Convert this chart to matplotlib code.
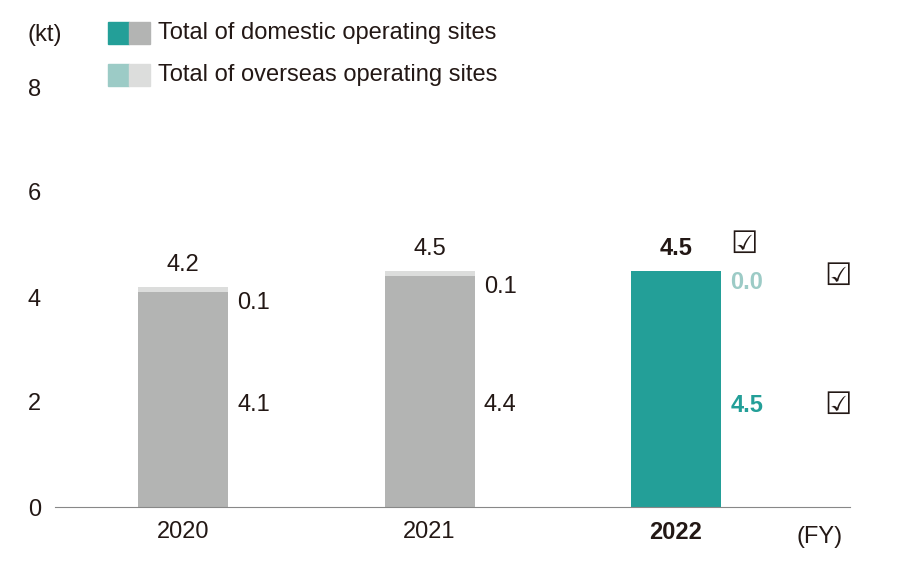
import matplotlib.pyplot as plt

years = ['2020', '2021', '2022']
domestic = [4.1, 4.4, 4.5]
overseas = [0.1, 0.1, 0.0]
totals = [4.2, 4.5, 4.5]
dom_labels = ['4.1', '4.4', '4.5']
ovs_labels = ['0.1', '0.1', '0.0']
tot_labels = ['4.2', '4.5', '4.5']

teal, teal_l = '#239f98', '#9ccbc6'
grey, grey_l = '#b3b4b3', '#dcdddc'
txt = '#231815'

plt.rcParams['font.family'] = ['Liberation Sans', 'DejaVu Sans']
fig = plt.figure(figsize=(9.22, 5.68), dpi=100)
ax = fig.add_axes([55/922, 61/568, 795/922, 420/568])
x = range(len(years))
for i in x:
    last = i == len(years) - 1
    c1, c2 = (teal, teal_l) if last else (grey, grey_l)
    ax.bar(i, domestic[i], width=0.365, color=c1)
    ax.bar(i, overseas[i], bottom=domestic[i], width=0.365, color=c2)
    w = 'bold' if last else 'normal'
    ax.text(i, totals[i] + 0.2, tot_labels[i], ha='center', va='bottom',
            fontsize=17, color=txt, fontweight=w)
    ax.text(i + 0.22, totals[i] - 0.1 + (0.1 if last else 0), ovs_labels[i],
            ha='left', va='top', fontsize=17,
            color=teal_l if last else txt, fontweight=w)
    ax.text(i + 0.22, 1.94, dom_labels[i], ha='left', va='center', fontsize=17,
            color=teal if last else txt, fontweight=w)
    if last:
        for xx, yy in [(i + 0.22, totals[i] + 0.5), (i + 0.6, 4.4), (i + 0.6, 1.94)]:
            ax.text(xx, yy, '\u2611', ha='left', va='center', fontsize=22,
                    color=txt, family='DejaVu Sans', fontweight='bold')

ax.set_xlim(-0.52, 2.706)
ax.set_ylim(0, 8)
ax.set_yticks([0, 2, 4, 6, 8])
ax.set_xticks(list(x))
ax.set_xticklabels(years)
for lab in ax.get_xticklabels()[-1:]:
    lab.set_fontweight('bold')
ax.tick_params(length=0, labelsize=17, colors=txt, pad=10)
for s in ['top', 'right', 'left']:
    ax.spines[s].set_visible(False)
ax.spines['bottom'].set_color('#888888')
fig.text(820/922, 1 - 537/568, '(FY)', fontsize=17, color=txt, va='center', ha='center')
fig.text(45/922, 1 - 35/568, '(kt)', fontsize=17, color=txt, va='center', ha='center')

for yy, ca, cb, lab in [(33, teal, grey, 'Total of domestic operating sites'),
                        (75, teal_l, grey_l, 'Total of overseas operating sites')]:
    fy = 1 - (yy + 11) / 568
    fig.patches.append(plt.Rectangle((108/922, fy), 21/922, 22/568, color=ca, transform=fig.transFigure))
    fig.patches.append(plt.Rectangle((129/922, fy), 21/922, 22/568, color=cb, transform=fig.transFigure))
    fig.text(158/922, 1 - yy/568, lab, fontsize=17, color=txt, va='center')

fig.savefig('out.png')
